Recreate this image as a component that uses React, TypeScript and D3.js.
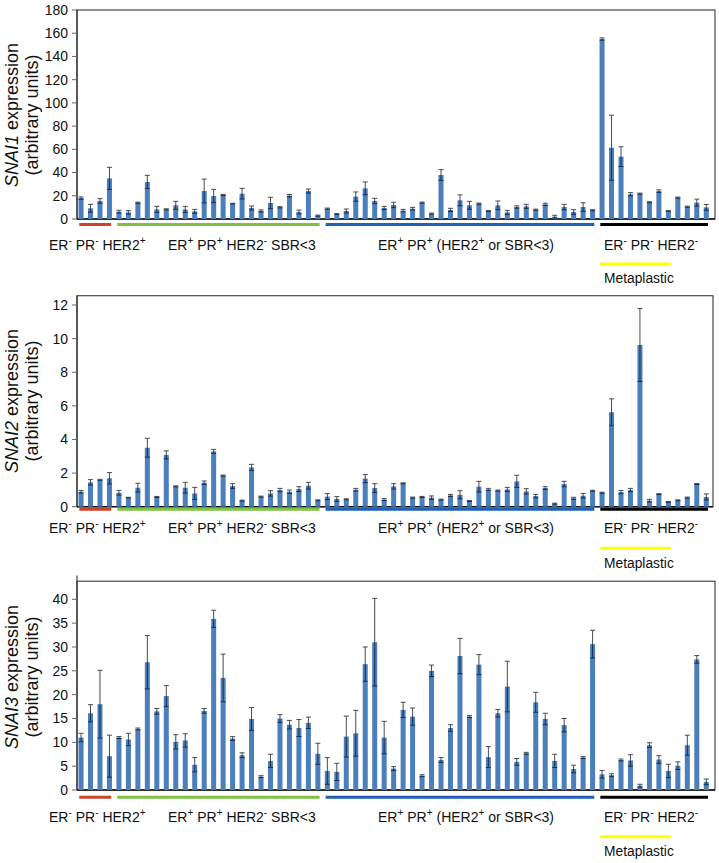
import React from "react";
import * as d3 from "d3";

// sample groups (left to right)
const groupLabels = ["ER⁻ PR⁻ HER2⁺", "ER⁺ PR⁺ HER2⁻ SBR<3", "ER⁺ PR⁺ (HER2⁺ or SBR<3)", "ER⁻ PR⁻ HER2⁻"];
const groupCounts = [4, 22, 29, 12];
const groupColors = ["#c8452b", "#7dc242", "#1f62b4", "#000000"];
const metaplasticLabel = "Metaplastic";
const metaplasticSpan = [55, 62]; // first and last sample under the yellow line

const snai1Values = [18, 9.2, 15.5, 35,
  6.3, 5.7, 14, 31.9, 8.3, 8.3, 11.8, 8.3, 6.6, 24.1, 19.8, 20.7, 13.2, 21.8, 9.5, 6.9, 13.8, 10.1, 20.1, 6, 24.1, 2.9,
  8.9, 4.3, 6.9, 19.3, 26.4, 15.5, 9.5, 12.1, 7.2, 8.9, 14.1, 4.6, 37.9, 7.8, 16.1, 11.8, 13.2, 6.9, 11.8, 5.7, 10.3, 10.9, 8, 12.6, 2, 10.3, 6, 10.3, 7.5,
  155, 61.4, 53.7, 21.3, 21.8, 14.4, 24, 6.9, 18.4, 10.6, 14.1, 10];
const snai1Errors = [1, 3.4, 2, 9.5,
  1.2, 1.5, 0.5, 5.7, 2.6, 0.5, 3.4, 2.6, 1.7, 10.3, 5.7, 0.5, 0.3, 4.6, 1.7, 0.9, 4.9, 0.5, 1, 1.7, 1.7, 0.5,
  0.5, 0.3, 1.7, 4, 5.5, 2.3, 1.4, 2.3, 1.1, 1.1, 0.5, 0.5, 4.6, 1.4, 4.6, 3.4, 0.5, 0.5, 3.7, 1.7, 1, 1.7, 0.5, 1, 1.2, 2.3, 2, 3.7, 0.5,
  1, 28, 8.5, 1.4, 0.5, 0.5, 1.1, 0.3, 0.5, 0.5, 3, 2.5];

const snai2Values = [0.89, 1.45, 1.6, 1.69,
  0.83, 0.54, 1.13, 3.51, 0.58, 3.08, 1.21, 1.13, 0.79, 1.43, 3.29, 1.85, 1.23, 0.36, 2.34, 0.6, 0.79, 0.99, 0.89, 1.05, 1.25, 0.38,
  0.6, 0.46, 0.44, 1.01, 1.67, 1.11, 0.42, 1.21, 1.39, 0.54, 0.58, 0.54, 0.42, 0.67, 0.71, 0.34, 1.19, 1.03, 0.96, 1.03, 1.51, 0.91, 0.63, 1.11, 0.18, 1.35, 0.5, 0.65, 0.95,
  0.83, 5.62, 0.87, 0.99, 9.62, 0.36, 0.75, 0.28, 0.38, 0.54, 1.35, 0.58];
const snai2Errors = [0.08, 0.16, 0.03, 0.34,
  0.14, 0.02, 0.26, 0.56, 0.03, 0.24, 0.03, 0.32, 0.36, 0.1, 0.12, 0.03, 0.14, 0.03, 0.18, 0.03, 0.16, 0.1, 0.1, 0.14, 0.2, 0.03,
  0.18, 0.14, 0.03, 0.08, 0.24, 0.26, 0.06, 0.16, 0.03, 0.03, 0.03, 0.1, 0.03, 0.06, 0.24, 0.03, 0.32, 0.06, 0.03, 0.12, 0.36, 0.16, 0.1, 0.08, 0.03, 0.16, 0.06, 0.14, 0.03,
  0.03, 0.8, 0.1, 0.1, 2.17, 0.08, 0.03, 0.03, 0.03, 0.03, 0.03, 0.18];

const snai3Values = [11.0, 16.1, 18.0, 7.1,
  11.0, 10.6, 12.8, 26.8, 16.5, 19.7, 10.1, 10.4, 5.3, 16.6, 35.9, 23.5, 10.8, 7.3, 14.9, 2.8, 6.1, 15.0, 13.7, 13.0, 14.1, 7.6,
  4.0, 3.8, 11.2, 11.9, 26.4, 31.0, 11.0, 4.5, 16.8, 15.4, 3.0, 25.0, 6.3, 13.0, 28.1, 15.4, 26.3, 6.9, 16.1, 21.7, 5.9, 7.7, 18.4, 14.9, 6.1, 13.6, 4.4, 6.8, 30.6,
  3.3, 3.1, 6.3, 6.2, 0.9, 9.4, 6.4, 4.0, 5.1, 9.4, 27.4, 1.7];
const snai3Errors = [0.9, 1.8, 7.1, 4.4,
  0.2, 1.3, 0.2, 5.6, 0.6, 2.2, 1.5, 1.4, 1.5, 0.5, 1.8, 5.0, 0.4, 0.5, 2.4, 0.2, 1.4, 0.8, 0.9, 1.8, 1.2, 2.2,
  2.8, 1.8, 4.3, 4.8, 3.6, 9.2, 3.4, 0.4, 1.6, 1.8, 0.2, 1.2, 0.5, 0.7, 3.7, 0.2, 2.1, 2.2, 0.8, 5.3, 0.7, 0.2, 2.1, 1.2, 1.4, 1.4, 0.8, 0.2, 2.9,
  0.8, 0.3, 0.2, 1.2, 0.3, 0.5, 0.8, 1.4, 0.8, 2.1, 0.8, 0.6];

const genes = ["SNAI1", "SNAI2", "SNAI3"];
const tickSteps = [20, 2, 5];
const tickMax = [180, 12, 40];

const samples = groupCounts.flatMap((n, g) => d3.range(n).map((i) => `${g}-${i}`));

// layout per panel
const W = 719, H = 863;
const left = 77;
const font = "'Liberation Sans', Arial, sans-serif";
const barColor = "#4b7fbc";
const layouts = [
  { baseline: 219, topPx: 10, frameTop: 180, axisTop: 180, right: 715, titleY: 115, lineY: 224.5, labelY: 250, yellowY: 264, metaY: 283 },
  { baseline: 506.7, topPx: 305, frameTop: 12.55, axisTop: 12.55, right: 713, titleY: 401, lineY: 509.3, labelY: 533, yellowY: 548.3, metaY: 568 },
  { baseline: 790, topPx: 599.3, frameTop: 43.8, axisTop: 45, right: 715, titleY: 677, lineY: 797.3, labelY: 822, yellowY: 836.7, metaY: 856 },
];
const groupLabelX = [49, 168, 378, 604];

const x = d3.scaleBand<string>().domain(samples).range([76.3, 711]).paddingInner(0.47).paddingOuter(0.235);

function SupText({ text, x0, y0, size }: { text: string; x0: number; y0: number; size: number }) {
  // split into runs, superscript for ⁺ / ⁻
  const runs: { t: string; sup: boolean }[] = [];
  for (const ch of text) {
    const sup = ch === "⁺" || ch === "⁻";
    const t = ch === "⁺" ? "+" : ch === "⁻" ? "-" : ch;
    const last = runs[runs.length - 1];
    if (last && last.sup === sup) last.t += t;
    else runs.push({ t, sup });
  }
  let shift = 0;
  return (
    <text x={x0} y={y0} fontSize={size} fontFamily={font} fill="#111">
      {runs.map((r, i) => {
        const target = r.sup ? -6 : 0;
        const dy = target - shift;
        shift = target;
        return (
          <tspan key={i} dy={dy} fontSize={r.sup ? size * 0.72 : size}>
            {r.t}
          </tspan>
        );
      })}
    </text>
  );
}

function Panel({ idx, values, errors }: { idx: number; values: number[]; errors: number[] }) {
  const L = layouts[idx];
  const y = d3.scaleLinear().domain([0, tickMax[idx]]).range([L.baseline, L.topPx]);
  const ticks = d3.range(0, tickMax[idx] + 0.001, tickSteps[idx]);
  const bw = x.bandwidth();
  const step = x.step();
  const bandStart = (i: number) => (x(samples[i]) as number) - x.paddingInner() * step / 2;
  let acc = 0;
  const groups = groupCounts.map((n) => {
    const s = acc;
    acc += n;
    return [s, acc - 1];
  });
  return (
    <g>
      {/* frame */}
      <rect x={left} y={y(L.frameTop)} width={L.right - left} height={L.baseline - y(L.frameTop)} fill="none" stroke="#222" strokeWidth={1} />
      <line x1={left} x2={left} y1={y(L.axisTop)} y2={L.baseline} stroke="#222" strokeWidth={1} />
      <line x1={left} x2={L.right} y1={L.baseline} y2={L.baseline} stroke="#111" strokeWidth={1.6} />
      {ticks.map((t) => (
        <g key={t}>
          <line x1={left - 5} x2={left} y1={y(t)} y2={y(t)} stroke="#666" />
          <text x={68} y={y(t)} dy="0.35em" textAnchor="end" fontSize={14} fontFamily={font} fill="#111">
            {t}
          </text>
        </g>
      ))}
      {/* bars */}
      {values.map((v, i) => (
        <rect key={i} x={x(samples[i])} y={y(v)} width={bw} height={L.baseline - y(v)} fill={barColor} />
      ))}
      {/* error bars: part above the bar greyer, part inside the bar dark */}
      {values.map((v, i) => {
        const cx = (x(samples[i]) as number) + bw / 2;
        const lo = Math.max(0, v - errors[i]);
        const hi = v + errors[i];
        return (
          <g key={i} strokeWidth={1}>
            <line x1={cx} x2={cx} y1={y(v)} y2={y(hi)} stroke="#4a4a4a" />
            <line x1={cx - 2.5} x2={cx + 2.5} y1={y(hi)} y2={y(hi)} stroke="#4a4a4a" />
            <line x1={cx} x2={cx} y1={y(lo)} y2={y(v)} stroke="#1a2f50" />
            <line x1={cx - 2.5} x2={cx + 2.5} y1={y(lo)} y2={y(lo)} stroke="#1a2f50" />
          </g>
        );
      })}
      {/* group lines and labels */}
      {groups.map(([s, e], g) => (
        <g key={g}>
          <line x1={bandStart(s) + 3} x2={bandStart(e) + step - 3} y1={L.lineY} y2={L.lineY} stroke={groupColors[g]} strokeWidth={3} />
          <SupText text={groupLabels[g]} x0={groupLabelX[g]} y0={L.labelY} size={14} />
        </g>
      ))}
      <line x1={bandStart(metaplasticSpan[0]) + 3} x2={bandStart(metaplasticSpan[1]) + step * 0.75} y1={L.yellowY} y2={L.yellowY} stroke="#ffff00" strokeWidth={3} />
      <text x={604} y={L.metaY} fontSize={13.8} fontFamily={font} fill="#111">
        {metaplasticLabel}
      </text>
      {/* y title */}
      <g transform={`translate(18,${L.titleY}) rotate(-90)`}>
        <text textAnchor="middle" fontSize={18} fontFamily={font} fill="#111">
          <tspan fontStyle="italic">{genes[idx]}</tspan>
          <tspan> expression</tspan>
        </text>
        <text y={20} textAnchor="middle" fontSize={18} fontFamily={font} fill="#111">
          (arbitrary units)
        </text>
      </g>
    </g>
  );
}

export default function App() {
  return (
    <svg width={W} height={H} style={{ position: "absolute", left: 0, top: 0, background: "#fff" }}>
      <Panel idx={0} values={snai1Values} errors={snai1Errors} />
      <Panel idx={1} values={snai2Values} errors={snai2Errors} />
      <Panel idx={2} values={snai3Values} errors={snai3Errors} />
    </svg>
  );
}
